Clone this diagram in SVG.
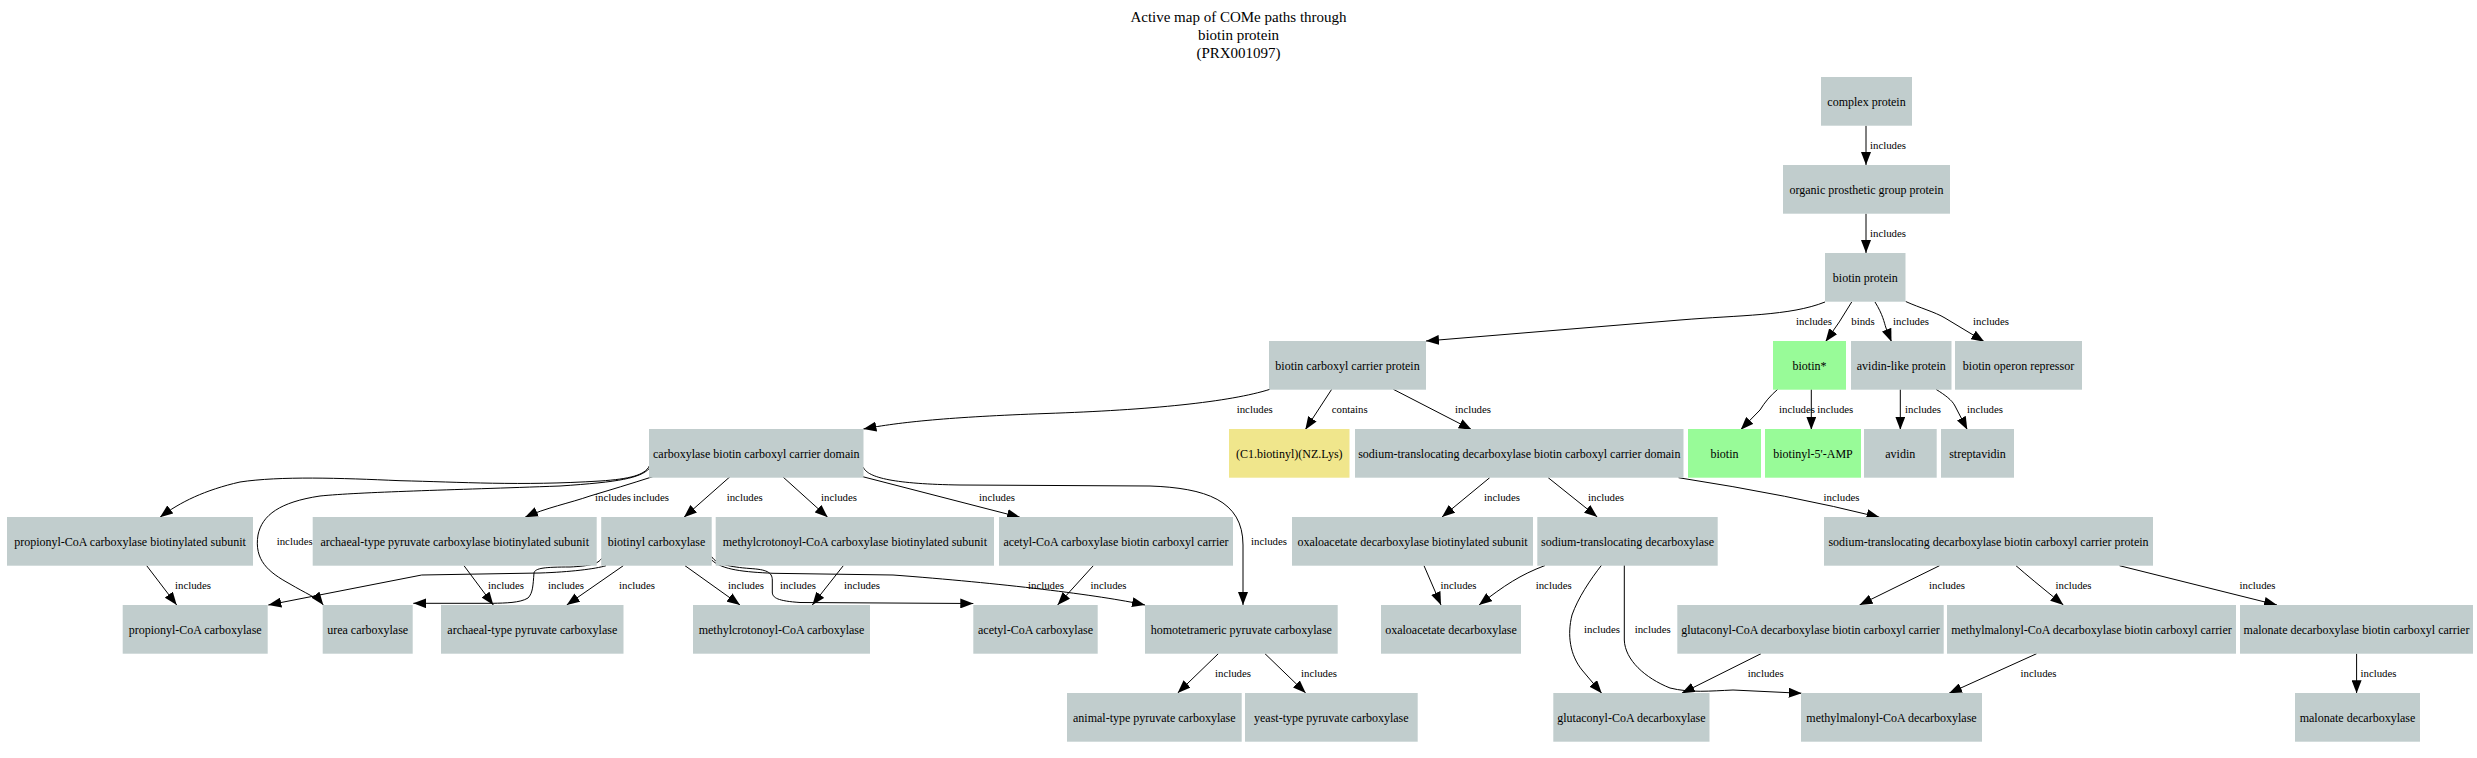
<svg xmlns="http://www.w3.org/2000/svg" width="2477" height="758" viewBox="0 0 2477 758">
<style>
.n{fill:#c1cdcd}
.g{fill:#98fb98}
.k{fill:#f0e68c}
.t{font-family:"Liberation Serif","Times New Roman",serif;font-size:12px;fill:#000;text-anchor:middle}
.l{font-family:"Liberation Serif","Times New Roman",serif;font-size:10.8px;fill:#000}
.e path{fill:none;stroke:#000;stroke-width:1;marker-end:url(#a)}
.title{font-family:"Liberation Serif","Times New Roman",serif;font-size:15px;fill:#000;text-anchor:middle}
</style>
<defs>
<marker id="a" markerUnits="userSpaceOnUse" markerWidth="14" markerHeight="10" viewBox="0 0 14 10" refX="13" refY="5" orient="auto">
<path d="M0,0 L13,5 L0,10 z" fill="#000"/>
</marker>
</defs>
<rect width="2477" height="758" fill="#fff"/>
<g id="title">
<text class="title" x="1238.5" y="22">Active map of COMe paths through</text>
<text class="title" x="1238.5" y="40">biotin protein</text>
<text class="title" x="1238.5" y="58">(PRX001097)</text>
</g>
<g id="connectors" class="e">
<path d="M1866,125.7 L1866,165"/>
<path d="M1866,213.7 L1866,253"/>
<path d="M1825,302 C1790,316 1740,315 1680,320 L1426,341"/>
<path d="M1851.7,302 Q1840,322 1825.5,341.7"/>
<path d="M1875,302 C1883,315 1884,322 1886,328 L1891.5,341.7"/>
<path d="M1905.7,301.5 C1920,308 1935,312 1945,318 L1984.3,341.7"/>
<path d="M1270,389.3 C1230,402 1150,410 1046,413.5 C950,417 900,422 863.4,429"/>
<path d="M1331.7,389.3 L1305.3,429.7"/>
<path d="M1393.3,389.3 L1471.7,429.7"/>
<path d="M1777.7,389.3 C1770,396 1765,402 1760,410 L1740.7,429.7"/>
<path d="M1811.3,389.3 L1811.3,429.7"/>
<path d="M1900.3,389.3 L1900.3,429.7"/>
<path d="M1936,389.3 C1945,395 1952,400 1955,406 L1967.3,429.7"/>
<path d="M1489.7,477.7 L1442,517"/>
<path d="M1548.2,477.7 L1597.3,517"/>
<path d="M1678.5,477.7 Q1790,495 1879.5,517.3"/>
<path d="M649.3,466 C645,475 630,479 600,481 C520,486 460,482 400,480.7 C340,478 280,476 240,482 C205,490 180,502 160,517.3"/>
<path d="M649.3,468.5 C640,478 620,482 560,486 C450,490 360,492 320,496 C280,502 262,515 258,535 C254,560 268,572 290,584 C305,593 318,598 323.3,605"/>
<path d="M652.7,476.7 C630,484 610,490 590,496 C570,503 545,508 525,517.3"/>
<path d="M730,476.7 L684,517.3"/>
<path d="M782.7,476.7 L827.7,517.3"/>
<path d="M862.7,476.7 L1020,517.3"/>
<path d="M863.3,467.3 C868,478 895,484 960,485 L1150,486 C1205,488 1243,500 1243,545 L1243,605"/>
<path d="M146.7,565.7 L176.7,605"/>
<path d="M464,565.7 L493.3,605"/>
<path d="M606,565.7 C595,569 570,572 540,573 L421.7,575 L268.3,605"/>
<path d="M601.7,558.3 C598,564 590,566 570,567 C545,567 535,568 534,573 C533,585 533,593 528,598 C520,603 505,603 493,603.3 L413.3,603.3"/>
<path d="M623.3,565.7 L566.7,605"/>
<path d="M685,565.7 L740,605"/>
<path d="M711.7,556.7 C716,564 730,567 750,568.5 C766,569.5 772.3,572 772.3,580 L772.3,592 C772.3,598 778,601 800,602.5 L973.3,603.5"/>
<path d="M711.7,560 C722,570 745,572 773,573.3 L893,575 C1000,583 1100,595 1145,605"/>
<path d="M843.3,565.7 L812.3,605"/>
<path d="M1093.3,565.7 L1057.6,605"/>
<path d="M1424,565.7 L1441,605"/>
<path d="M1545,565.5 C1520,575 1505,585 1479,605"/>
<path d="M1601.7,565 C1590,580 1578,598 1572,615 C1567,635 1570,655 1582,670 L1601.7,693.3"/>
<path d="M1624.3,565 L1624.3,640 C1625,660 1645,678 1670,688 C1690,693 1710,691 1733,690 L1801.7,693.3"/>
<path d="M1939.5,565.7 L1859.5,605"/>
<path d="M2016,565.7 Q2030,578 2063.4,605"/>
<path d="M2119.5,565.7 L2277,605"/>
<path d="M1761,653.7 L1681.7,693.3"/>
<path d="M2036.6,653.7 L1949,693.3"/>
<path d="M2356.6,653.7 L2356.6,693.3"/>
<path d="M1218.3,653.7 L1177.7,693"/>
<path d="M1265,653.7 L1305.7,693"/>
</g>
<g id="edge-labels">
<text class="l" x="1870" y="149.2">includes</text>
<text class="l" x="1870" y="237.2">includes</text>
<text class="l" x="1796" y="325.2">includes</text>
<text class="l" x="1851.3" y="325.2">binds</text>
<text class="l" x="1893" y="325.2">includes</text>
<text class="l" x="1973" y="325.2">includes</text>
<text class="l" x="1236.7" y="412.8">includes</text>
<text class="l" x="1331.7" y="412.8">contains</text>
<text class="l" x="1455" y="412.8">includes</text>
<text class="l" x="1779" y="412.8">includes</text>
<text class="l" x="1817.3" y="412.8">includes</text>
<text class="l" x="1905" y="412.8">includes</text>
<text class="l" x="1967" y="412.8">includes</text>
<text class="l" x="595" y="501">includes</text>
<text class="l" x="633" y="501">includes</text>
<text class="l" x="726.7" y="501">includes</text>
<text class="l" x="821" y="501">includes</text>
<text class="l" x="979" y="501">includes</text>
<text class="l" x="1484" y="501">includes</text>
<text class="l" x="1588" y="501">includes</text>
<text class="l" x="1823.6" y="501">includes</text>
<text class="l" x="276.7" y="544.5">includes</text>
<text class="l" x="1251" y="544.5">includes</text>
<text class="l" x="175" y="589.2">includes</text>
<text class="l" x="488" y="589.2">includes</text>
<text class="l" x="548" y="589.2">includes</text>
<text class="l" x="619" y="589.2">includes</text>
<text class="l" x="728" y="589.2">includes</text>
<text class="l" x="780" y="589.2">includes</text>
<text class="l" x="844" y="589.2">includes</text>
<text class="l" x="1028" y="589.2">includes</text>
<text class="l" x="1090.6" y="589.2">includes</text>
<text class="l" x="1440.6" y="589.2">includes</text>
<text class="l" x="1535.7" y="589.2">includes</text>
<text class="l" x="1929" y="589.2">includes</text>
<text class="l" x="2055.6" y="589.2">includes</text>
<text class="l" x="2239.6" y="589.2">includes</text>
<text class="l" x="1584" y="632.8">includes</text>
<text class="l" x="1634.7" y="632.8">includes</text>
<text class="l" x="1215" y="677">includes</text>
<text class="l" x="1301" y="677">includes</text>
<text class="l" x="1747.7" y="677">includes</text>
<text class="l" x="2020.6" y="677">includes</text>
<text class="l" x="2360.5" y="677">includes</text>
</g>
<g id="n0"><rect class="n" x="1821" y="77" width="91" height="48.7"/><text class="t" x="1866.5" y="105.5">complex protein</text></g>
<g id="n1"><rect class="n" x="1783" y="165" width="167" height="48.7"/><text class="t" x="1866.5" y="193.5">organic prosthetic group protein</text></g>
<g id="n2"><rect class="n" x="1825" y="253" width="80.5" height="48.7"/><text class="t" x="1865.3" y="281.5">biotin protein</text></g>
<g id="n3"><rect class="n" x="1269" y="341" width="157" height="48.7"/><text class="t" x="1347.5" y="369.5">biotin carboxyl carrier protein</text></g>
<g id="n4"><rect class="g" x="1773" y="341" width="73" height="48.7"/><text class="t" x="1809.5" y="369.5">biotin*</text></g>
<g id="n5"><rect class="n" x="1851" y="341" width="100.5" height="48.7"/><text class="t" x="1901.3" y="369.5">avidin-like protein</text></g>
<g id="n6"><rect class="n" x="1955" y="341" width="127" height="48.7"/><text class="t" x="2018.5" y="369.5">biotin operon repressor</text></g>
<g id="n7"><rect class="n" x="649" y="429" width="214.5" height="48.7"/><text class="t" x="756.3" y="457.5">carboxylase biotin carboxyl carrier domain</text></g>
<g id="n8"><rect class="k" x="1229" y="429" width="120.5" height="48.7"/><text class="t" x="1289.3" y="457.5">(C1.biotinyl)(NZ.Lys)</text></g>
<g id="n9"><rect class="n" x="1355" y="429" width="328.5" height="48.7"/><text class="t" x="1519.3" y="457.5">sodium-translocating decarboxylase biotin carboxyl carrier domain</text></g>
<g id="n10"><rect class="g" x="1688" y="429" width="73" height="48.7"/><text class="t" x="1724.5" y="457.5">biotin</text></g>
<g id="n11"><rect class="g" x="1765" y="429" width="96" height="48.7"/><text class="t" x="1813" y="457.5">biotinyl-5'-AMP</text></g>
<g id="n12"><rect class="n" x="1864" y="429" width="72.7" height="48.7"/><text class="t" x="1900.3" y="457.5">avidin</text></g>
<g id="n13"><rect class="n" x="1941" y="429" width="73" height="48.7"/><text class="t" x="1977.5" y="457.5">streptavidin</text></g>
<g id="n14"><rect class="n" x="7" y="517" width="246" height="48.7"/><text class="t" x="130" y="545.5">propionyl-CoA carboxylase biotinylated subunit</text></g>
<g id="n15"><rect class="n" x="312.7" y="517" width="284" height="48.7"/><text class="t" x="454.7" y="545.5">archaeal-type pyruvate carboxylase biotinylated subunit</text></g>
<g id="n16"><rect class="n" x="601.2" y="517" width="110.5" height="48.7"/><text class="t" x="656.5" y="545.5">biotinyl carboxylase</text></g>
<g id="n17"><rect class="n" x="715.7" y="517" width="278.3" height="48.7"/><text class="t" x="854.9" y="545.5">methylcrotonoyl-CoA carboxylase biotinylated subunit</text></g>
<g id="n18"><rect class="n" x="999" y="517" width="234" height="48.7"/><text class="t" x="1116" y="545.5">acetyl-CoA carboxylase biotin carboxyl carrier</text></g>
<g id="n19"><rect class="n" x="1292" y="517" width="241" height="48.7"/><text class="t" x="1412.5" y="545.5">oxaloacetate decarboxylase biotinylated subunit</text></g>
<g id="n20"><rect class="n" x="1537.3" y="517" width="180.4" height="48.7"/><text class="t" x="1627.5" y="545.5">sodium-translocating decarboxylase</text></g>
<g id="n21"><rect class="n" x="1824" y="517" width="329" height="48.7"/><text class="t" x="1988.5" y="545.5">sodium-translocating decarboxylase biotin carboxyl carrier protein</text></g>
<g id="n22"><rect class="n" x="122.7" y="605" width="145" height="48.7"/><text class="t" x="195.2" y="633.5">propionyl-CoA carboxylase</text></g>
<g id="n23"><rect class="n" x="322.7" y="605" width="90" height="48.7"/><text class="t" x="367.7" y="633.5">urea carboxylase</text></g>
<g id="n24"><rect class="n" x="441" y="605" width="182.5" height="48.7"/><text class="t" x="532.3" y="633.5">archaeal-type pyruvate carboxylase</text></g>
<g id="n25"><rect class="n" x="693" y="605" width="177" height="48.7"/><text class="t" x="781.5" y="633.5">methylcrotonoyl-CoA carboxylase</text></g>
<g id="n26"><rect class="n" x="973.3" y="605" width="124.4" height="48.7"/><text class="t" x="1035.5" y="633.5">acetyl-CoA carboxylase</text></g>
<g id="n27"><rect class="n" x="1145" y="605" width="192.7" height="48.7"/><text class="t" x="1241.3" y="633.5">homotetrameric pyruvate carboxylase</text></g>
<g id="n28"><rect class="n" x="1381" y="605" width="140" height="48.7"/><text class="t" x="1451" y="633.5">oxaloacetate decarboxylase</text></g>
<g id="n29"><rect class="n" x="1677.3" y="605" width="266.4" height="48.7"/><text class="t" x="1810.5" y="633.5">glutaconyl-CoA decarboxylase biotin carboxyl carrier</text></g>
<g id="n30"><rect class="n" x="1947" y="605" width="289" height="48.7"/><text class="t" x="2091.5" y="633.5">methylmalonyl-CoA decarboxylase biotin carboxyl carrier</text></g>
<g id="n31"><rect class="n" x="2240" y="605" width="233" height="48.7"/><text class="t" x="2356.5" y="633.5">malonate decarboxylase biotin carboxyl carrier</text></g>
<g id="n32"><rect class="n" x="1067" y="693" width="174.7" height="48.7"/><text class="t" x="1154.3" y="721.5">animal-type pyruvate carboxylase</text></g>
<g id="n33"><rect class="n" x="1245" y="693" width="172.7" height="48.7"/><text class="t" x="1331.3" y="721.5">yeast-type pyruvate carboxylase</text></g>
<g id="n34"><rect class="n" x="1553.3" y="693" width="156.2" height="48.7"/><text class="t" x="1631.4" y="721.5">glutaconyl-CoA decarboxylase</text></g>
<g id="n35"><rect class="n" x="1801" y="693" width="181" height="48.7"/><text class="t" x="1891.5" y="721.5">methylmalonyl-CoA decarboxylase</text></g>
<g id="n36"><rect class="n" x="2295" y="693" width="125" height="48.7"/><text class="t" x="2357.5" y="721.5">malonate decarboxylase</text></g>
</svg>
